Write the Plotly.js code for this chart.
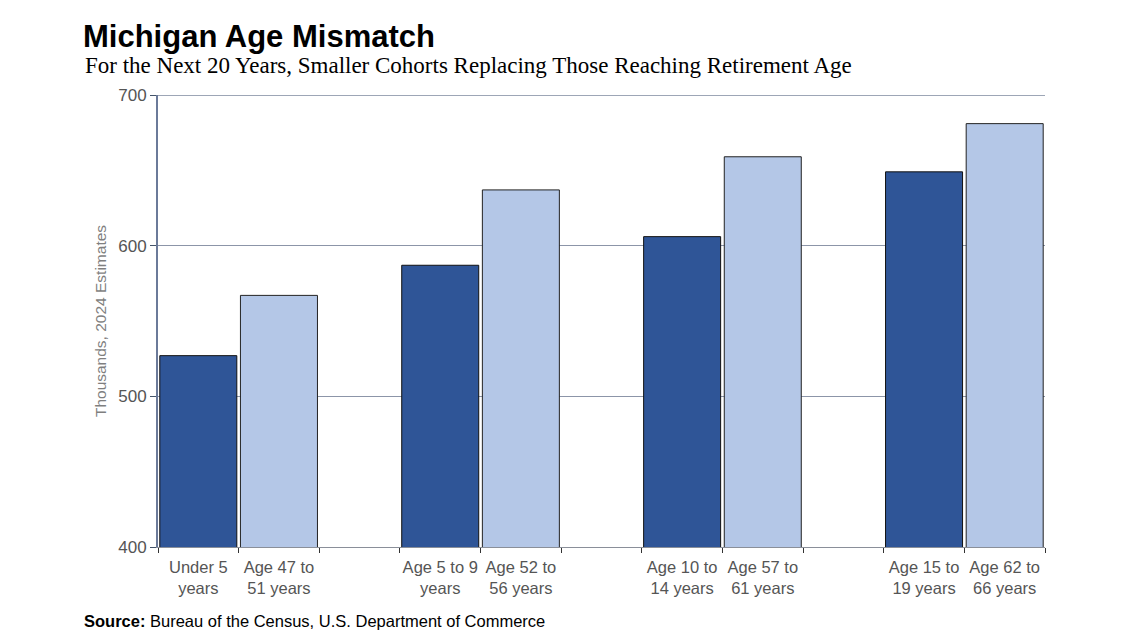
<!DOCTYPE html>
<html>
<head>
<meta charset="utf-8">
<script src="https://cdn.plot.ly/plotly-3.0.1.min.js"></script>
<style>html,body{margin:0;padding:0;background:#fff;}#chart{width:1121px;height:631px;}</style>
</head>
<body>
<div id="chart"></div>
<script>
// Category order (blank slots separate the pairs)
const categories = [
  "Under 5<br>years", "Age 47 to<br>51 years", " ",
  "Age 5 to 9<br>years", "Age 52 to<br>56 years", "  ",
  "Age 10 to<br>14 years", "Age 57 to<br>61 years", "   ",
  "Age 15 to<br>19 years", "Age 62 to<br>66 years"
];
// Younger cohorts (dark bars)
const youngLabels = ["Under 5<br>years", "Age 5 to 9<br>years", "Age 10 to<br>14 years", "Age 15 to<br>19 years"];
const youngValues = [527, 587, 606, 649];
// Cohorts reaching retirement age (light bars)
const olderLabels = ["Age 47 to<br>51 years", "Age 52 to<br>56 years", "Age 57 to<br>61 years", "Age 62 to<br>66 years"];
const olderValues = [567, 637, 659, 681];
const yTicks = [400, 500, 600, 700];

const traces = [
  {type: "bar", x: youngLabels, y: youngValues, marker: {color: "#2F5597", line: {color: "#111111", width: 1}}, hoverinfo: "y"},
  {type: "bar", x: olderLabels, y: olderValues, marker: {color: "#B4C7E7", line: {color: "#222222", width: 1}}, hoverinfo: "y"}
];

const sans = "Liberation Sans, Arial, sans-serif";
const layout = {
  width: 1121, height: 631,
  margin: {l: 158, r: 76, t: 95, b: 84},
  paper_bgcolor: "#ffffff", plot_bgcolor: "#ffffff",
  showlegend: false,
  barmode: "overlay",
  bargap: 0.045,
  title: {
    text: "<b>Michigan Age Mismatch</b>",
    font: {family: sans, size: 31, color: "#000000"},
    xref: "container", yref: "container", x: 83/1121, xanchor: "left",
    y: 1 - 36/631, yanchor: "middle"
  },
  xaxis: {
    type: "category",
    categoryorder: "array", categoryarray: categories,
    range: [-0.5, categories.length - 0.5],
    tickson: "boundaries",
    tickangle: 0,
    ticks: "outside", ticklen: 5, tickcolor: "#333333", tickwidth: 1,
    ticklabelstandoff: 5,
    showline: true, linecolor: "#8a8f99", linewidth: 1,
    showgrid: false, zeroline: false,
    tickfont: {family: sans, size: 16.5, color: "#555555"},
    fixedrange: true
  },
  yaxis: {
    range: [400, 700],
    tickvals: yTicks,
    ticks: "outside", ticklen: 6, tickcolor: "#44546A", tickwidth: 1,
    showline: true, linecolor: "#6b7a99", linewidth: 2,
    showgrid: true, gridcolor: "#8c95a8", gridwidth: 1.2,
    zeroline: false,
    tickfont: {family: sans, size: 17, color: "#555555"},
    title: {text: "Thousands, 2024 Estimates", font: {family: sans, size: 15.5, color: "#7f7f7f"}, standoff: 8},
    fixedrange: true
  },
  shapes: [
    {type: "line", xref: "paper", yref: "y", x0: 0, x1: 1, y0: yTicks[yTicks.length - 1], y1: yTicks[yTicks.length - 1],
     line: {color: "#7d889e", width: 1.5}, layer: "below"}
  ],
  annotations: [
    {
      text: "For the Next 20 Years, Smaller Cohorts Replacing Those Reaching Retirement Age",
      xref: "paper", yref: "paper", x: (83 - 158) / 887, y: 1 + (95 - 65) / 452,
      xanchor: "left", yanchor: "middle", showarrow: false,
      font: {family: "Liberation Serif, Georgia, serif", size: 23, color: "#000000"}
    },
    {
      text: "<b>Source:</b> Bureau of the Census, U.S. Department of Commerce",
      xref: "paper", yref: "paper", x: (82 - 158) / 887, y: -(621 - 547) / 452,
      xanchor: "left", yanchor: "middle", showarrow: false,
      font: {family: sans, size: 16.5, color: "#000000"}
    }
  ]
};

Plotly.newPlot("chart", traces, layout, {displayModeBar: false, staticPlot: true});
</script>
</body>
</html>
